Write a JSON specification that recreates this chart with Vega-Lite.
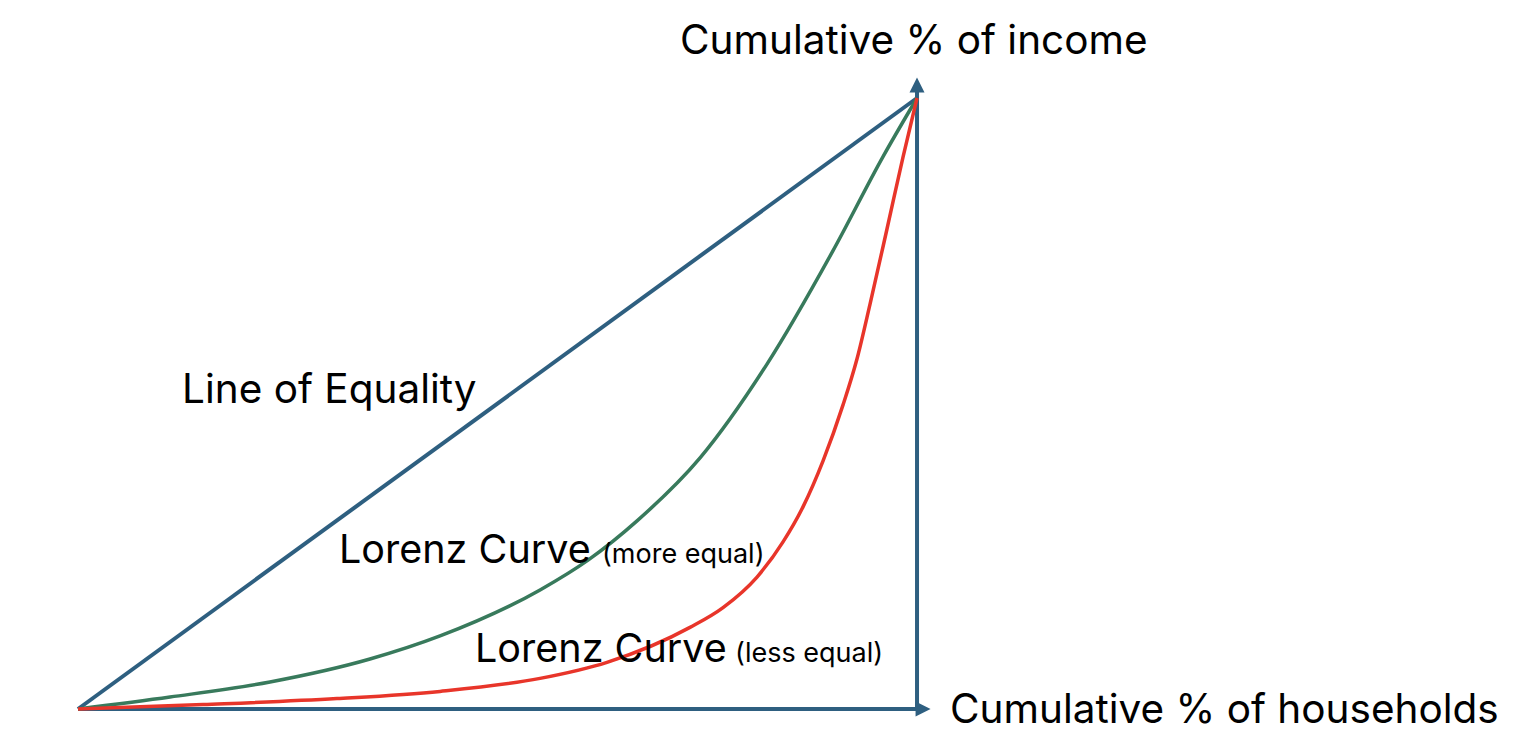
{
  "$schema": "https://vega.github.io/schema/vega-lite/v6.json",
  "width": 1528,
  "height": 754,
  "autosize": "none",
  "padding": 0,
  "background": "white",
  "config": {"view": {"stroke": null}, "font": "Inter"},
  "datasets": {
    "lines": [
      {"series": "xaxis", "x": 0, "y": 0},
      {"series": "xaxis", "x": 100, "y": 0},
      {"series": "yaxis", "x": 100, "y": 0},
      {"series": "yaxis", "x": 100, "y": 101.2},
      {"series": "equality", "x": 0, "y": 0},
      {"series": "equality", "x": 100, "y": 100},
      {"series": "more", "x": 0, "y": 0},
      {"series": "more", "x": 10.97, "y": 1.96},
      {"series": "more", "x": 22.88, "y": 4.42},
      {"series": "more", "x": 34.8, "y": 8.18},
      {"series": "more", "x": 43.15, "y": 11.96},
      {"series": "more", "x": 55.07, "y": 19.49},
      {"series": "more", "x": 60.79, "y": 24.37},
      {"series": "more", "x": 66.63, "y": 30.79},
      {"series": "more", "x": 74.14, "y": 41.1},
      {"series": "more", "x": 82.12, "y": 56.45},
      {"series": "more", "x": 89.99, "y": 75.02},
      {"series": "more", "x": 95.95, "y": 90.41},
      {"series": "more", "x": 100, "y": 100},
      {"series": "less", "x": 0, "y": 0},
      {"series": "less", "x": 14.9, "y": 0.72},
      {"series": "less", "x": 30.87, "y": 1.7},
      {"series": "less", "x": 43.15, "y": 2.88},
      {"series": "less", "x": 55.07, "y": 5.01},
      {"series": "less", "x": 63.05, "y": 7.64},
      {"series": "less", "x": 72.94, "y": 13.36},
      {"series": "less", "x": 76.88, "y": 16.6},
      {"series": "less", "x": 80.93, "y": 21.6},
      {"series": "less", "x": 84.03, "y": 27.35},
      {"series": "less", "x": 86.41, "y": 33.08},
      {"series": "less", "x": 88.8, "y": 40.61},
      {"series": "less", "x": 91.18, "y": 49.77},
      {"series": "less", "x": 92.85, "y": 57.33},
      {"series": "less", "x": 94.4, "y": 66.28},
      {"series": "less", "x": 96.42, "y": 78.56},
      {"series": "less", "x": 98.33, "y": 90.34},
      {"series": "less", "x": 100, "y": 100}
    ],
    "arrowUp": [{"x": 100, "y": 102.13}],
    "arrowRight": [{"x": 100.72, "y": 0}],
    "bigLabels": [
      {"label": "Cumulative % of income", "x": 71.75, "y": 107.2},
      {"label": "Line of Equality", "x": 12.4, "y": 50.08},
      {"label": "Cumulative % of households", "x": 103.93, "y": -2.29}
    ],
    "curveLabels": [
      {"label": "Lorenz Curve", "x": 31.11, "y": 23.9},
      {"label": "Lorenz Curve", "x": 47.32, "y": 7.69}
    ],
    "smallLabels": [
      {"label": "(more equal)", "x": 62.45, "y": 23.9},
      {"label": "(less equal)", "x": 78.31, "y": 7.69}
    ]
  },
  "layer": [
    {
      "data": {"name": "lines"},
      "transform": [{"filter": "datum.series === 'xaxis' || datum.series === 'yaxis' || datum.series === 'equality'"}],
      "mark": {"type": "line", "strokeWidth": 4, "color": "#2E5F80", "strokeCap": "butt"},
      "encoding": {
        "x": {"field": "x", "type": "quantitative", "scale": {"domain": [-9.297, 172.82], "nice": false, "zero": false}, "axis": null},
        "y": {"field": "y", "type": "quantitative", "scale": {"domain": [-7.365, 116.04], "nice": false, "zero": false}, "axis": null},
        "detail": {"field": "series"}
      }
    },
    {
      "data": {"name": "lines"},
      "transform": [{"filter": "datum.series === 'more'"}],
      "mark": {"type": "line", "strokeWidth": 3.5, "color": "#387A5C", "interpolate": "monotone"},
      "encoding": {
        "x": {"field": "x", "type": "quantitative"},
        "y": {"field": "y", "type": "quantitative"}
      }
    },
    {
      "data": {"name": "lines"},
      "transform": [{"filter": "datum.series === 'less'"}],
      "mark": {"type": "line", "strokeWidth": 3.5, "color": "#E8352A", "interpolate": "monotone"},
      "encoding": {
        "x": {"field": "x", "type": "quantitative"},
        "y": {"field": "y", "type": "quantitative"}
      }
    },
    {
      "data": {"name": "arrowUp"},
      "mark": {"type": "point", "shape": "M0,-1L1,1L-1,1Z", "size": 225, "filled": true, "color": "#2E5F80", "opacity": 1},
      "encoding": {
        "x": {"field": "x", "type": "quantitative"},
        "y": {"field": "y", "type": "quantitative"}
      }
    },
    {
      "data": {"name": "arrowRight"},
      "mark": {"type": "point", "shape": "M1,0L-1,-1L-1,1Z", "size": 225, "filled": true, "color": "#2E5F80", "opacity": 1},
      "encoding": {
        "x": {"field": "x", "type": "quantitative"},
        "y": {"field": "y", "type": "quantitative"}
      }
    },
    {
      "data": {"name": "bigLabels"},
      "mark": {"type": "text", "align": "left", "baseline": "alphabetic", "fontSize": 40.5, "color": "black", "font": "Inter"},
      "encoding": {
        "x": {"field": "x", "type": "quantitative"},
        "y": {"field": "y", "type": "quantitative"},
        "text": {"field": "label"}
      }
    },
    {
      "data": {"name": "curveLabels"},
      "mark": {"type": "text", "align": "left", "baseline": "alphabetic", "fontSize": 39.5, "color": "black", "font": "Inter"},
      "encoding": {
        "x": {"field": "x", "type": "quantitative"},
        "y": {"field": "y", "type": "quantitative"},
        "text": {"field": "label"}
      }
    },
    {
      "data": {"name": "smallLabels"},
      "mark": {"type": "text", "align": "left", "baseline": "alphabetic", "fontSize": 27, "color": "black", "font": "Inter"},
      "encoding": {
        "x": {"field": "x", "type": "quantitative"},
        "y": {"field": "y", "type": "quantitative"},
        "text": {"field": "label"}
      }
    }
  ]
}
